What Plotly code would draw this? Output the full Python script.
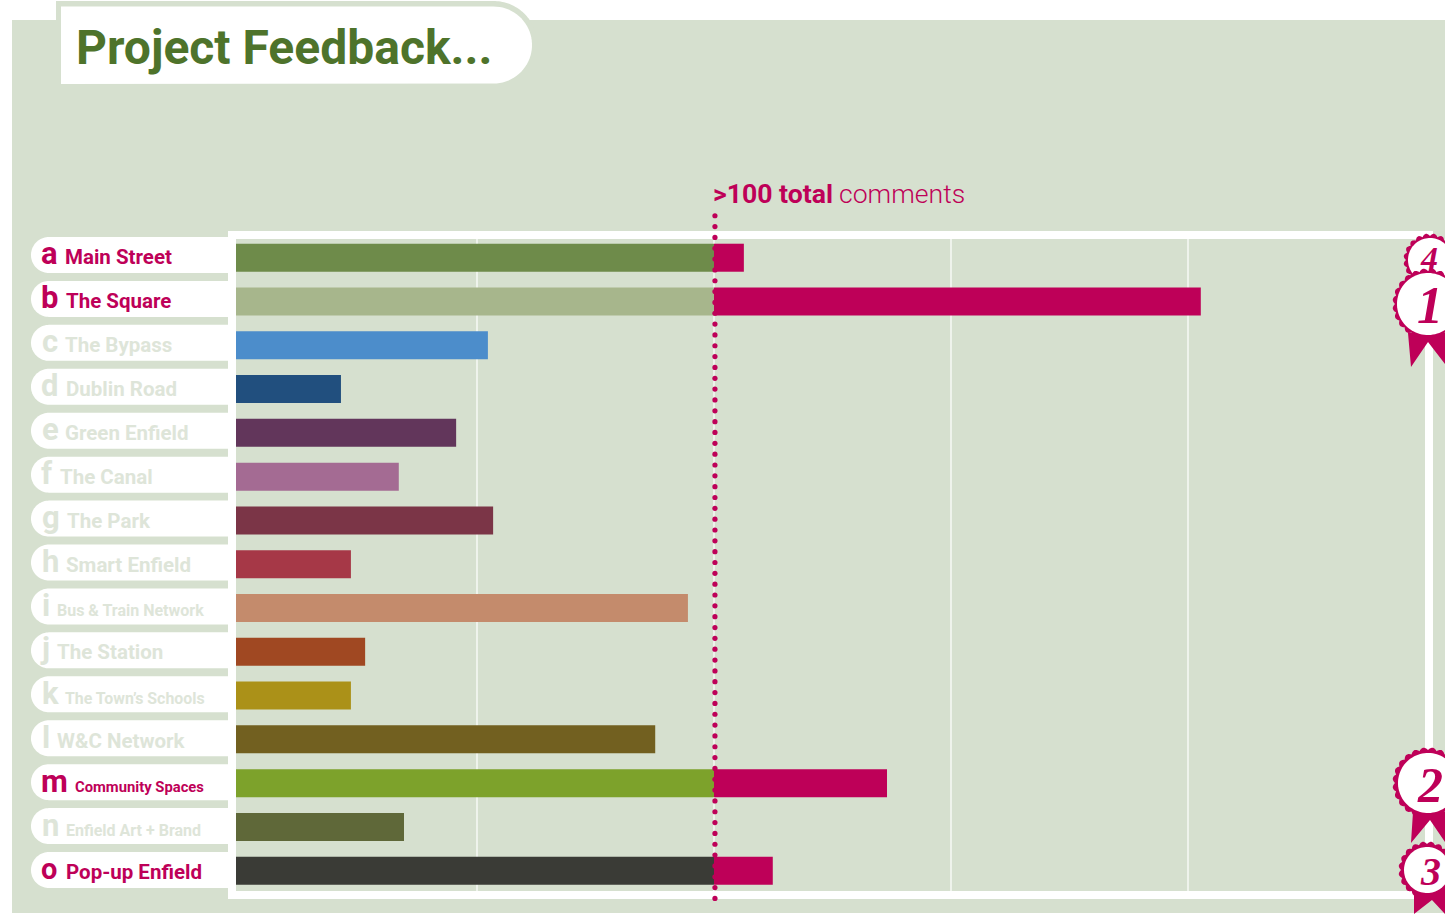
import numpy as np
import plotly.graph_objects as go

# ---------- data ----------
letters = list("abcdefghijklmno")
projects = ["Main Street", "The Square", "The Bypass", "Dublin Road", "Green Enfield", "The Canal",
            "The Park", "Smart Enfield", "Bus & Train Network", "The Station", "The Town’s Schools",
            "W&C Network", "Community Spaces", "Enfield Art + Brand", "Pop-up Enfield"]
comments = [106.3, 202.7, 52.3, 21.3, 45.6, 33.5, 53.4, 23.4, 94.5, 26.4, 23.4, 87.6, 136.5, 34.6, 112.4]
threshold = 100
grid_values = [50, 100, 150, 200]

# ---------- style ----------
bar_colors = ["#6E8B4A", "#A7B68C", "#4C8DCB", "#214F7E", "#62365B", "#A46B93", "#7B3547", "#A63847",
              "#C48B6C", "#A04822", "#AB9118", "#726020", "#7DA22B", "#5F6839", "#3A3B36"]
PINK = "#BE0058"
BG = "#D6E0CF"
GREY = "#DEE5D9"
TITLE = "#4E732B"
W, H = 1445, 914
FONT = "Roboto"
AXIS_MIN = -0.844

label_x = [65, 66, 65, 66, 65, 60, 67, 66, 57, 57, 65, 57, 75, 66, 66]
letter_x = [41, 41, 42, 41, 42, 41, 42, 42, 42, 40, 42, 42, 41, 42, 41]
label_size = [20.5, 20.5, 20.5, 20.5, 20.5, 20.5, 20.5, 20.5, 16, 20.5, 15.9, 20.5, 14.8, 16, 20.5]
letter_size = [31, 31, 31, 31, 31, 31, 31, 31, 31, 31, 31, 31, 31, 31, 29]
baselines = [264, 308, 352, 396, 440, 484, 528, 572, 616, 659, 704, 748, 792, 836, 879]


def fx(p):
    return p / W


def fy(p):
    return 1 - p / H


def path(points):
    return "M" + " L".join(f"{fx(x):.5f},{fy(y):.5f}" for x, y in points) + " Z"


def rect(x0, y0, x1, y1, color, layer="below"):
    return dict(type="rect", xref="paper", yref="paper", x0=fx(x0), x1=fx(x1), y0=fy(y0), y1=fy(y1),
                fillcolor=color, line_width=0, layer=layer)


def shape(points, color, layer="below"):
    return dict(type="path", xref="paper", yref="paper", path=path(points), fillcolor=color,
                line_width=0, layer=layer)


def arc(cx, cy, r, a0, a1, n=40):
    t = np.radians(np.linspace(a0, a1, n))
    return [(cx + r * np.cos(a), cy + r * np.sin(a)) for a in t]


def scallop(cx, cy, r, amp, n):
    t = np.linspace(0, 2 * np.pi, 361)
    return [(cx + (r + amp * abs(np.sin(n * a / 2))) * np.cos(a),
             cy + (r + amp * abs(np.sin(n * a / 2))) * np.sin(a)) for a in t]


shapes = [rect(12, 20, W, 913, BG)]
# title tab
shapes.append(shape([(56, 20), (56, 1)] + arc(493.5, 45, 44, -90, 0) + [(537.5, 60), (56, 60)], BG))
shapes.append(shape([(61, 84), (61, 6.5)] + arc(493.5, 45, 38.5, -90, 90), "#FFFFFF"))
# label pills
for i in range(15):
    c = 255 + 43.93 * i
    shapes.append(shape(arc(49, c, 18, 90, 270) + [(229, c - 18), (229, c + 18)], "#FFFFFF"))
# white frame and inner panel
shapes.append(rect(228, 231, 1433, 899, "#FFFFFF"))
shapes.append(rect(236, 239, 1425, 891, BG))
# grid lines, clipped to the panel
for g in grid_values:
    shapes.append(dict(type="line", xref="x", yref="paper", x0=g, x1=g, y0=fy(891), y1=fy(239),
                       line=dict(color="#FFFFFF", width=1.2), layer="below"))

# rosettes: (cx, cy, inner r, outer r, scallops, ribbon points)
rosettes = [
    (1430, 260, 22, 26, 20, None),
    (1428, 304, 31, 35, 24, [(1408, 333), (1411, 367), (1428, 342), (1445, 364), (1445, 333)]),
    (1428, 783, 30, 35, 24, [(1413, 812), (1411, 843), (1430, 820), (1445, 842), (1445, 812)]),
    (1427, 870, 23, 28, 20, [(1414, 889), (1414, 914), (1432, 900), (1445, 914), (1445, 889)]),
]
for cx, cy, ri, ro, n, rib in rosettes:
    if rib:
        shapes.append(shape(rib, PINK, "above"))
    shapes.append(shape(scallop(cx, cy, ro - 2, 2.5, n), PINK, "above"))
    shapes.append(shape(arc(cx, cy, ri, 0, 360, 90), "#FFFFFF", "above"))

annotations = []


def text(x, base, s, size, color, weight=700, anchor="left", family=FONT, style="normal"):
    annotations.append(dict(xref="paper", yref="paper", x=fx(x), y=fy(base - 0.34 * size), text=s,
                            showarrow=False, xanchor=anchor, yanchor="middle", borderpad=0, borderwidth=0,
                            font=dict(family=family, size=size, color=color, weight=weight, style=style)))


top_set = {p for p, v in zip(projects, comments) if v > threshold}
for i, (l, p) in enumerate(zip(letters, projects)):
    col = PINK if p in top_set else GREY
    text(letter_x[i], baselines[i], l, letter_size[i], col)
    text(label_x[i], baselines[i], p.replace("&", "&amp;"), label_size[i], col)

text(76, 64, "Project Feedback...", 48, TITLE)
text(712.5, 203, "&gt;100 total", 26.6, PINK)
text(839, 203, "comments", 26.6, PINK, weight=300)

rank_pos = {"1": (1430, 323, 52), "2": (1430, 802, 50), "3": (1430, 885, 40), "4": (1429, 270, 34)}
for r, (x, base, size) in rank_pos.items():
    text(x, base, r, size, PINK, anchor="center", family="Liberation Serif", style="italic")

y_pos = list(range(len(projects)))
base_lengths = [min(v, threshold) - AXIS_MIN for v in comments]
over_vals = [max(v - threshold, 0) for v in comments]

fig = go.Figure()
fig.add_bar(y=y_pos, x=base_lengths, base=AXIS_MIN, orientation="h", width=0.64,
            marker=dict(color=bar_colors, line_width=0), hovertext=projects, name="up to 100")
fig.add_bar(y=y_pos, x=over_vals, base=threshold, orientation="h", width=0.64,
            marker=dict(color=PINK, line_width=0), hovertext=projects, name="over 100")
dots_y = np.arange(-0.959, 14.65, 0.2475)
fig.add_scatter(x=[threshold + 0.2] * len(dots_y), y=dots_y, mode="markers",
                marker=dict(color=PINK, size=5.2, line_width=0), hoverinfo="skip")

fig.update_layout(
    width=W, height=H, margin=dict(l=0, r=0, t=0, b=0), barmode="overlay", showlegend=False,
    paper_bgcolor="#FFFFFF", plot_bgcolor="rgba(0,0,0,0)", shapes=shapes, annotations=annotations,
    font=dict(family=FONT),
    xaxis=dict(domain=[fx(236), fx(1425)], range=[AXIS_MIN, 250], showgrid=False, showticklabels=False,
               zeroline=False, showline=False, ticks=""),
    yaxis=dict(domain=[fy(905), fy(205)], range=[14.783, -1.204], showgrid=False, showticklabels=False,
               zeroline=False, showline=False, ticks=""),
)
fig.write_html("out.html", post_script="document.body.style.margin='0';", config={"displayModeBar": False})
